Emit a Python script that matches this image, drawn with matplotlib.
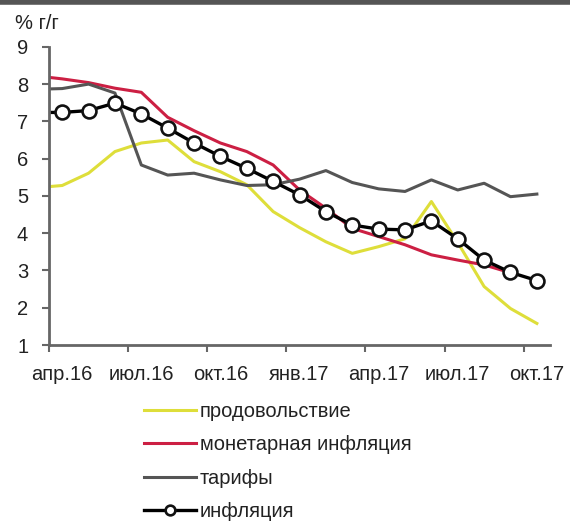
import numpy as np
import matplotlib.pyplot as plt
from matplotlib.lines import Line2D

plt.rcParams['font.family'] = ['Liberation Sans', 'DejaVu Sans']

# месяцы: март.16 (индекс -1) ... окт.17 (индекс 18)
x = np.arange(-1, 19)
tick_labels = ['апр.16', 'июл.16', 'окт.16', 'янв.17', 'апр.17', 'июл.17', 'окт.17']

food = [5.22, 5.28, 5.61, 6.19, 6.42, 6.50, 5.92, 5.65, 5.30, 4.58,
        4.15, 3.77, 3.46, 3.64, 3.85, 4.85, 3.75, 2.57, 1.98, 1.58]
monetary = [8.22, 8.14, 8.04, 7.89, 7.78, 7.11, 6.75, 6.42, 6.19, 5.83,
            5.16, 4.67, 4.13, 3.91, 3.69, 3.42, 3.28, 3.15, 2.94, np.nan]
tariffs = [7.86, 7.88, 8.00, 7.76, 5.83, 5.56, 5.61, 5.43, 5.28, 5.30,
           5.45, 5.68, 5.36, 5.19, 5.12, 5.43, 5.16, 5.34, 4.98, 5.05]
inflation = [7.24, 7.24, 7.29, 7.49, 7.20, 6.82, 6.42, 6.06, 5.74, 5.39,
             5.03, 4.58, 4.22, 4.11, 4.09, 4.33, 3.85, 3.28, 2.95, 2.73]

fig = plt.figure(figsize=(5.7, 5.26), dpi=100)
ax = fig.add_axes([0.086, 0.344, 0.879, 0.567])

ax.plot(x, food, color='#dede3a', lw=2.2, label='продовольствие')
ax.plot(x, monetary, color='#cc1f43', lw=2.2, label='монетарная инфляция')
ax.plot(x, tariffs, color='#555555', lw=2.2, label='тарифы')
ax.plot(x, inflation, color='black', lw=2.4, marker='o', ms=10,
        mfc='white', mec='#111111', mew=1.9, markevery=range(1, 20),
        label='инфляция')

ax.set_xlim(-0.5, 18.5)
ax.set_ylim(1, 9)
ax.set_yticks(range(1, 10))

# подписи по центру месяца, засечки на границах кварталов
ax.set_xticks(range(0, 19, 3))
ax.set_xticklabels(tick_labels)
ax.set_xticks(np.arange(-0.5, 18, 3), minor=True)
ax.tick_params(axis='x', which='major', length=0, pad=14)
ax.tick_params(axis='x', which='minor', length=5, width=1.5, color='#666666')
ax.tick_params(axis='y', length=5, width=1.5, color='#666666', pad=10)
ax.tick_params(labelsize=14.5, labelcolor='#222222')

for side in ['top', 'right']:
    ax.spines[side].set_visible(False)
for side in ['left', 'bottom']:
    ax.spines[side].set_color('#666666')
    ax.spines[side].set_linewidth(2)

fig.text(0.026, 0.956, '% г/г', fontsize=14.5, color='#222222', va='center')

handles, labels = ax.get_legend_handles_labels()
fig.legend(handles, labels, loc='upper left', bbox_to_anchor=(0.252, 0.236),
           frameon=False, fontsize=14.5, handlelength=2.6, handletextpad=0.2,
           labelspacing=0.72, markerscale=0.7, borderpad=0, borderaxespad=0,
           labelcolor='#222222')

# рамка сверху
fig.add_artist(Line2D([0, 1], [0.996, 0.996], transform=fig.transFigure,
                      color='#555555', lw=4))

fig.savefig('out.png', dpi=100)
